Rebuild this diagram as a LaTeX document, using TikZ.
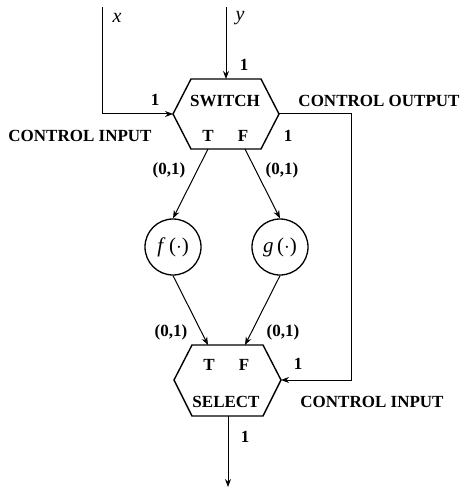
\documentclass[tikz,border=0pt]{standalone}
\usepackage{fontspec}
\setmainfont{Liberation Serif}
\usetikzlibrary{arrows.meta}
\begin{document}
\begin{tikzpicture}[x=1pt,y=-1pt,
  lbl/.style={font=\fontsize{17}{19}\selectfont\bfseries, inner sep=0pt},
  fn/.style={draw, circle, line width=1.3pt, minimum size=56pt, inner sep=0pt, font=\fontsize{21}{23}\selectfont},
  wire/.style={line width=1pt},
  arr/.style={wire, -{Stealth[length=8pt,width=6pt]}},
  hex/.style={line width=1.4pt, line join=miter}]
\useasboundingbox (0,0) rectangle (461,489);
% switch hexagon
\coordinate (swL) at (173,114);
\coordinate (swR) at (279,114);
\coordinate (swTL) at (191,79);
\coordinate (swTR) at (261,79);
\coordinate (swBL) at (191,149);
\coordinate (swBR) at (261,149);
\draw[hex] (swL) -- (swTL) -- (swTR) -- (swR) -- (swBR) -- (swBL) -- cycle;
\coordinate (swtop) at (226,79);
\coordinate (swT) at (208,149);
\coordinate (swF) at (245,149);
% select hexagon
\coordinate (seL) at (174,380);
\coordinate (seR) at (281,380);
\coordinate (seTL) at (192,345);
\coordinate (seTR) at (263,345);
\coordinate (seBL) at (192,416);
\coordinate (seBR) at (263,416);
\draw[hex] (seL) -- (seTL) -- (seTR) -- (seR) -- (seBR) -- (seBL) -- cycle;
\coordinate (seT) at (208,345);
\coordinate (seF) at (245,345);
\coordinate (sebot) at (228,416);
% circles
\node[fn] (f) at (173,247) {\textit{f}\,($\cdot$)};
\node[fn] (g) at (280,247) {\textit{g}\,($\cdot$)};
% inputs
\coordinate (xin) at (102,7);
\coordinate (xcorner) at (102,114);
\coordinate (yin) at (226,7);
\draw[arr] (yin) -- (swtop);
\draw[arr] (xin) -- (xcorner) -- (swL);
% control output loop
\coordinate (c1) at (351,114);
\coordinate (c2) at (351,380);
\draw[arr] (swR) -- (c1) -- (c2) -- (seR);
% to functions
\draw[arr] (swT) -- (f.north);
\draw[arr] (swF) -- (g.north);
\draw[arr] (f.south) -- (seT);
\draw[arr] (g.south) -- (seF);
% output
\coordinate (out) at (228,487);
\draw[arr] (sebot) -- (out);
% labels
\node[font=\fontsize{20}{22}\selectfont\itshape] (lx) at (117,18) {x};
\node[font=\fontsize{20}{22}\selectfont\itshape] (ly) at (240,18) {y};
\node[lbl] (l1) at (244,65) {1};
\node[lbl] (l2) at (155,100) {1};
\node[lbl] (sw) at (225,101) {SWITCH};
\node[lbl] (st) at (208,136) {T};
\node[lbl] (sf) at (243,136) {F};
\node[lbl] (l3) at (288,136) {1};
\node[lbl] (co) at (379,101) {CONTROL OUTPUT};
\node[lbl] (ci) at (80,136) {CONTROL INPUT};
\node[lbl] (p1) at (169,170) {(0,1)};
\node[lbl] (p2) at (282,170) {(0,1)};
\node[lbl] (p3) at (171,332) {(0,1)};
\node[lbl] (p4) at (283,332) {(0,1)};
\node[lbl] (tt) at (209,365) {T};
\node[lbl] (ff) at (244,365) {F};
\node[lbl] (l4) at (298,364) {1};
\node[lbl] (sel) at (226,402) {SELECT};
\node[lbl] (ci2) at (372,402) {CONTROL INPUT};
\node[lbl] (l5) at (245,437) {1};
\end{tikzpicture}
\end{document}
